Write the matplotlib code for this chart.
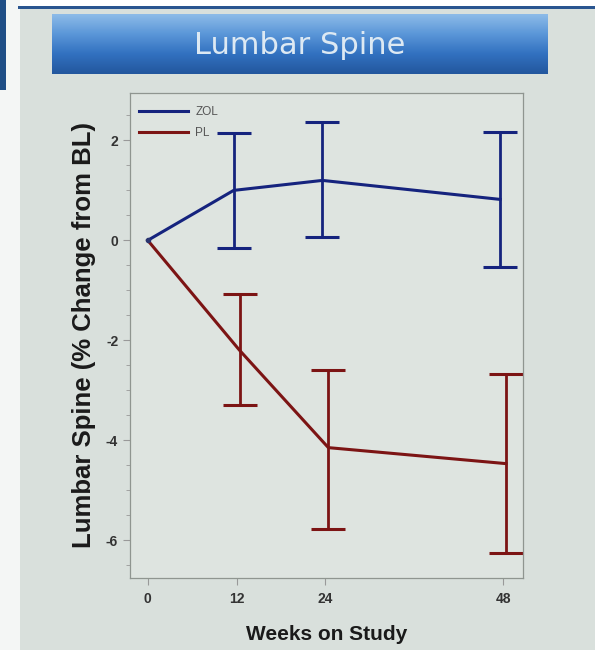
import matplotlib.pyplot as plt
from matplotlib.patches import Rectangle
from matplotlib.colors import LinearSegmentedColormap
import numpy as np

plt.rcParams['axes.unicode_minus'] = False

# data
weeks = [0, 12, 24, 48]
zol_mean = [0.0, 1.00, 1.20, 0.82]
zol_lo = [0.0, -0.15, 0.07, -0.54]
zol_hi = [0.0, 2.15, 2.37, 2.17]
pl_mean = [0.0, -2.20, -4.15, -4.47]
pl_lo = [0.0, -3.30, -5.77, -6.25]
pl_hi = [0.0, -1.08, -2.60, -2.67]

BLUE = '#15237e'
RED = '#7c1414'
BG = '#d9e0dc'
NARROW = ['Liberation Sans Narrow', 'Liberation Sans', 'DejaVu Sans']

fig = plt.figure(figsize=(5.95, 6.5), dpi=100)
fig.patch.set_facecolor(BG)

# slide decorations: white left margin, dark rule on top, title banner
fig.patches.append(Rectangle((0, 0), 20/595, 1, transform=fig.transFigure,
                             facecolor='#f4f6f5', edgecolor='none', zorder=0))
fig.patches.append(Rectangle((0, 1-90/650), 6/595, 90/650, transform=fig.transFigure,
                             facecolor='#1f4e86', edgecolor='none', zorder=1))
fig.patches.append(Rectangle((20/595, 1-8/650), 1, 8/650, transform=fig.transFigure,
                             facecolor='white', edgecolor='none', zorder=1))
fig.patches.append(Rectangle((18/595, 1-9/650), 1, 3/650, transform=fig.transFigure,
                             facecolor='#2a5590', edgecolor='none', zorder=2))

bax = fig.add_axes([52/595, 1-74/650, 496/595, 60/650])
grad = np.linspace(0, 1, 64).reshape(-1, 1)
cmap = LinearSegmentedColormap.from_list('ban', ['#8dbbe8', '#5a96d8', '#3271c0', '#23579e'])
bax.imshow(grad, aspect='auto', cmap=cmap, extent=[0, 1, 0, 1])
bax.set_xlim(0, 1)
bax.set_ylim(0, 1)
bax.axis('off')
bax.text(0.5, 0.48, 'Lumbar Spine', ha='center', va='center', color='#dde9f3',
         fontsize=22, family='DejaVu Sans')

# main chart
ax = fig.add_axes([130/595, 1-578/650, 393/595, 485/650])
ax.set_facecolor('#dee4e0')
off = 0.4
zx = [w - off if w else w for w in weeks]
px = [w + off if w else w for w in weeks]

ax.plot(zx, zol_mean, color=BLUE, lw=2.2, label='ZOL', zorder=3)
ax.plot(px, pl_mean, color=RED, lw=2.2, label='PL', zorder=3)
zm = np.array(zol_mean)
pm = np.array(pl_mean)
ax.errorbar(zx[1:], zm[1:], yerr=[zm[1:] - np.array(zol_lo[1:]), np.array(zol_hi[1:]) - zm[1:]],
            fmt='none', ecolor=BLUE, elinewidth=2.0, capsize=12, capthick=2.2)
ax.errorbar(px[1:], pm[1:], yerr=[pm[1:] - np.array(pl_lo[1:]), np.array(pl_hi[1:]) - pm[1:]],
            fmt='none', ecolor=RED, elinewidth=2.0, capsize=12, capthick=2.2)
ax.plot([0], [0], 'o', color='#2a3570', ms=3, zorder=4)

ax.set_xlim(-2.4, 50.7)
ax.set_ylim(-6.76, 2.95)
ax.set_xticks(weeks)
ax.set_yticks([2, 0, -2, -4, -6])
ax.set_yticks(np.arange(-6.5, 3.0, 0.5), minor=True)
ax.tick_params(axis='both', which='major', labelsize=10, colors='#999999',
               labelcolor='#333333', length=5, width=0.8)
ax.tick_params(axis='x', which='major', pad=5)
ax.tick_params(axis='y', which='minor', colors='#999999', length=3, width=0.6)
for lab in ax.get_xticklabels() + ax.get_yticklabels():
    lab.set_fontweight('bold')
    lab.set_family(NARROW)
for s in ax.spines.values():
    s.set_color('#8f9590')
    s.set_linewidth(0.9)

ax.set_ylabel('Lumbar Spine (% Change from BL)', fontsize=18.5, fontweight='bold',
              family='Liberation Sans', color='#1a1a1a', labelpad=7)
ax.set_xlabel('Weeks on Study', fontsize=15, fontweight='bold', family='Liberation Sans',
              color='#1a1a1a', labelpad=14)

leg = ax.legend(loc='upper left', bbox_to_anchor=(-0.005, 0.995), frameon=False,
                handlelength=4.2, labelspacing=0.75, handletextpad=0.6,
                prop={'family': NARROW, 'size': 8.5})
for t in leg.get_texts():
    t.set_color('#555555')

fig.savefig('out.png', dpi=100, facecolor=fig.get_facecolor())
